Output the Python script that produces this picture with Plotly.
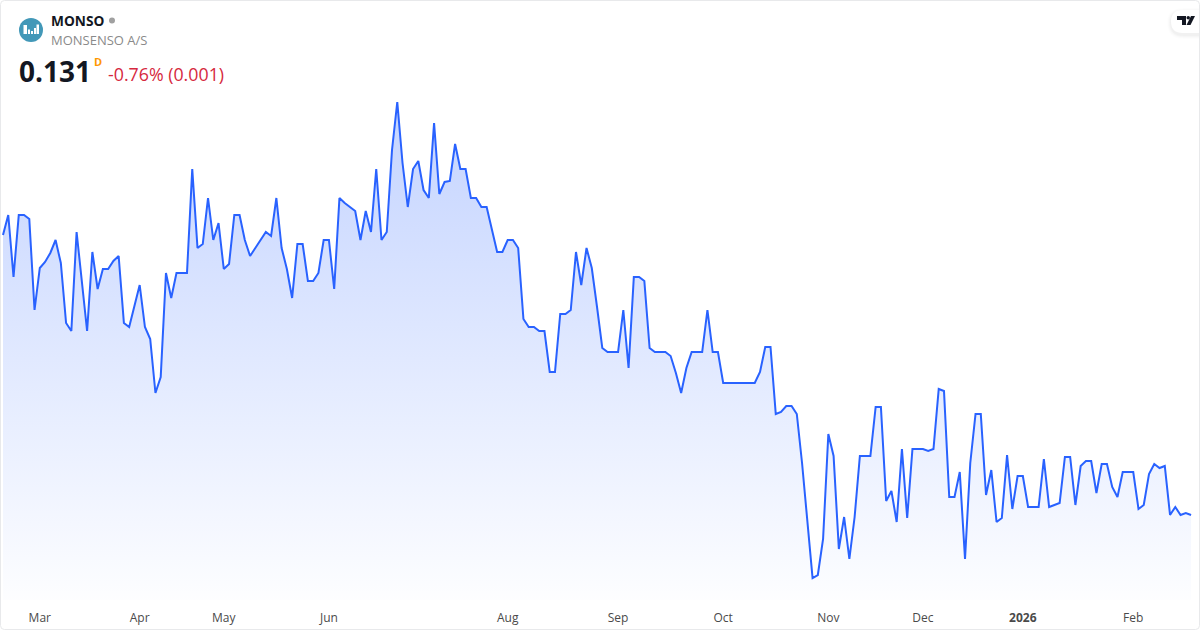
import plotly.graph_objects as go

TICKER = "MONSO"
COMPANY = "MONSENSO A/S"
LAST_PRICE = "0.131"
CHANGE_TEXT = "-0.76% (0.001)"

prices = [
    0.299, 0.311, 0.2738, 0.311, 0.311, 0.3086, 0.254, 0.2792, 0.2828, 0.2882,
    0.296, 0.2822, 0.2462, 0.2414, 0.3008, 0.2708, 0.2414, 0.2888, 0.2666, 0.2786,
    0.2786, 0.2834, 0.2864, 0.2462, 0.2438, 0.2564, 0.269, 0.2438, 0.2366, 0.2042,
    0.2138, 0.2762, 0.2612, 0.2762, 0.2762, 0.2762, 0.3386, 0.2912, 0.2936, 0.3212,
    0.296, 0.3062, 0.2786, 0.2816, 0.311, 0.311, 0.296, 0.2864, 0.2912, 0.296,
    0.3008, 0.2984, 0.3212, 0.2912, 0.2786, 0.2612, 0.2936,
    0.2936, 0.2714, 0.2714, 0.2762, 0.296, 0.296, 0.2666, 0.3212, 0.3182, 0.3158,
    0.3134, 0.296, 0.3134, 0.3008, 0.3386, 0.296, 0.3008, 0.35, 0.3788, 0.3422,
    0.3158, 0.3386, 0.3434, 0.326, 0.3212, 0.3662, 0.3236, 0.3308, 0.3314, 0.3536,
    0.3386, 0.3386, 0.3212, 0.3212, 0.3158, 0.3158, 0.302, 0.2888, 0.2888, 0.296,
    0.296, 0.2912, 0.2486, 0.2438, 0.2438, 0.2414, 0.2414, 0.2168, 0.2168, 0.2516,
    0.2516, 0.254, 0.2888, 0.269, 0.2912, 0.2792, 0.2558,
    0.2312, 0.2288, 0.2288, 0.2288, 0.254, 0.2192, 0.2738, 0.2738, 0.2714, 0.2312,
    0.2288, 0.2288, 0.2288, 0.2264, 0.2162, 0.2042, 0.2192, 0.2288, 0.2288, 0.2288,
    0.254, 0.2288, 0.2288, 0.2102, 0.2102, 0.2102, 0.2102, 0.2102, 0.2102, 0.2102,
    0.2168, 0.2318, 0.2318, 0.1916, 0.1928, 0.1964, 0.1964, 0.1916, 0.1622, 0.1298,
    0.0932, 0.095, 0.1166, 0.1796, 0.1664, 0.1106, 0.1298, 0.1046, 0.1298, 0.1664,
    0.1664, 0.1664, 0.1958, 0.1958, 0.1394, 0.1454, 0.1268,
    0.1706, 0.1292, 0.1706, 0.1706, 0.1706, 0.1694, 0.1706, 0.2066, 0.2054, 0.1418,
    0.1418, 0.1568, 0.1046, 0.1622, 0.1916, 0.1916, 0.143, 0.158, 0.1268, 0.1292,
    0.167, 0.1346, 0.1544, 0.1544, 0.1358, 0.1358, 0.1358, 0.1646, 0.1358, 0.137,
    0.1382, 0.1658, 0.1658, 0.137, 0.1604, 0.1634, 0.1634, 0.1442, 0.1616, 0.1616,
    0.1478, 0.1418, 0.1568, 0.1568, 0.1568, 0.1346, 0.137, 0.1556, 0.1616, 0.1592,
    0.1604, 0.131, 0.1358, 0.131, 0.1322, 0.131,
]

tick_index = [7, 26, 42, 62, 96, 117, 137, 157, 175, 194, 215]
tick_labels = ["Mar", "Apr", "May", "Jun", "Aug", "Sep", "Oct", "Nov", "Dec", "<b>2026</b>", "Feb"]

WIDTH, HEIGHT, PLOT_H = 1200, 630, 600
Y_RANGE = [0.08, 0.44]
X_RANGE = [-0.571, 227.7]
FONT = "Open Sans"


def px(x):
    return x / WIDTH


def py(y):
    return (PLOT_H - y) / PLOT_H


def shape(path, **kw):
    return dict(type="path", path=path, xref="paper", yref="paper", **kw)


def path_from(points):
    return "M " + " L ".join(f"{px(x):.5f},{py(y):.5f}" for x, y in points) + " Z"


def label(x, y, text, size, color, bold=False):
    if bold:
        text = f"<b>{text}</b>"
    return dict(x=px(x), y=py(y), xref="paper", yref="paper", text=text, showarrow=False,
                xanchor="left", yanchor="middle", font=dict(family=FONT, size=size, color=color))


fig = go.Figure()
fig.add_trace(go.Scatter(
    x=list(range(len(prices))), y=prices, mode="lines",
    line=dict(color="#2962FF", width=2),
    fill="tozeroy",
    fillgradient=dict(type="vertical",
                      colorscale=[[0, "rgba(41,98,255,0.01)"], [1, "rgba(41,98,255,0.28)"]],
                      start=Y_RANGE[0], stop=0.38),
    hoverinfo="skip",
))

shapes = []
# frame
shapes.append(shape(
    f"M {px(4.5)},{py(0.5)} L {px(1195.5)},{py(0.5)} Q {px(1199.5)},{py(0.5)} {px(1199.5)},{py(4.5)} "
    f"L {px(1199.5)},{py(625.5)} Q {px(1199.5)},{py(629.5)} {px(1195.5)},{py(629.5)} "
    f"L {px(4.5)},{py(629.5)} Q {px(0.5)},{py(629.5)} {px(0.5)},{py(625.5)} "
    f"L {px(0.5)},{py(4.5)} Q {px(0.5)},{py(0.5)} {px(4.5)},{py(0.5)} Z",
    line=dict(color="#E8E9EB", width=1), fillcolor="rgba(0,0,0,0)"))
# logo circle
shapes.append(dict(type="circle", xref="paper", yref="paper", x0=px(19), x1=px(43), y0=py(42), y1=py(18),
                   fillcolor="#4298B8", line_width=0))
for x0, x1, top in [(23.5, 27, 25), (28, 30, 29.5), (31, 33, 31), (34, 36, 28), (36.5, 39, 24.5)]:
    shapes.append(dict(type="rect", xref="paper", yref="paper", x0=px(x0), x1=px(x1), y0=py(34), y1=py(top),
                       fillcolor="white", line_width=0))
# status dot
shapes.append(dict(type="circle", xref="paper", yref="paper", x0=px(109), x1=px(115), y0=py(23.5), y1=py(17.5),
                   fillcolor="#A0A0A0", line_width=0))
# TradingView tab, soft shadow first
for grow, alpha in [(4, 0.008), (3, 0.012), (2, 0.016), (1, 0.02)]:
    shapes.append(shape(
        f"M {px(1199)},{py(10 - grow + 2)} L {px(1183)},{py(10 - grow + 2)} "
        f"Q {px(1171 - grow)},{py(10 - grow + 2)} {px(1171 - grow)},{py(21.5 + 1)} "
        f"Q {px(1171 - grow)},{py(33 + grow + 2)} {px(1183)},{py(33 + grow + 2)} L {px(1199)},{py(33 + grow + 2)} Z",
        fillcolor=f"rgba(0,0,0,{alpha})", line_width=0))
shapes.append(shape(
    f"M {px(1199)},{py(10)} L {px(1183)},{py(10)} Q {px(1171)},{py(10)} {px(1171)},{py(21.5)} "
    f"Q {px(1171)},{py(33)} {px(1183)},{py(33)} L {px(1199)},{py(33)} Z",
    fillcolor="white", line_width=0))
# TradingView mark
shapes.append(shape(path_from([(1177, 16), (1186, 16), (1186, 25), (1182, 25), (1182, 20), (1177, 20)]),
                    fillcolor="#131722", line_width=0))
shapes.append(dict(type="circle", xref="paper", yref="paper", x0=px(1186.5), x1=px(1190), y0=py(19.5), y1=py(16),
                   fillcolor="#131722", line_width=0))
shapes.append(shape(path_from([(1191, 16), (1195, 16), (1190.5, 25), (1186.5, 25)]),
                    fillcolor="#131722", line_width=0))

annotations = [
    label(48.5, 20.5, TICKER, 13.7, "#131722", bold=True),
    label(48.5, 40, COMPANY, 13, "#8A8A8A"),
    label(17, 71, LAST_PRICE, 28, "#131722", bold=True),
    label(91.5, 61, "D", 11, "#FF9800", bold=True),
    label(105.5, 74.5, CHANGE_TEXT, 17.8, "#D6293E"),
]

fig.update_layout(
    width=WIDTH, height=HEIGHT,
    margin=dict(l=0, r=0, t=0, b=HEIGHT - PLOT_H, pad=0),
    paper_bgcolor="white", plot_bgcolor="rgba(0,0,0,0)",
    showlegend=False,
    shapes=shapes, annotations=annotations,
    font=dict(family=FONT, color="#4A4A4A", size=12),
)
fig.update_xaxes(range=X_RANGE, tickmode="array", tickvals=tick_index, ticktext=tick_labels,
                 showgrid=False, zeroline=False, showline=False, ticks="", ticklabelstandoff=9,
                 tickfont=dict(family=FONT, size=12, color="#4A4A4A"))
fig.update_yaxes(range=Y_RANGE, visible=False, showgrid=False, zeroline=False)

fig.write_html("out.html", config=dict(displayModeBar=False),
               post_script="document.body.style.margin='0';")
